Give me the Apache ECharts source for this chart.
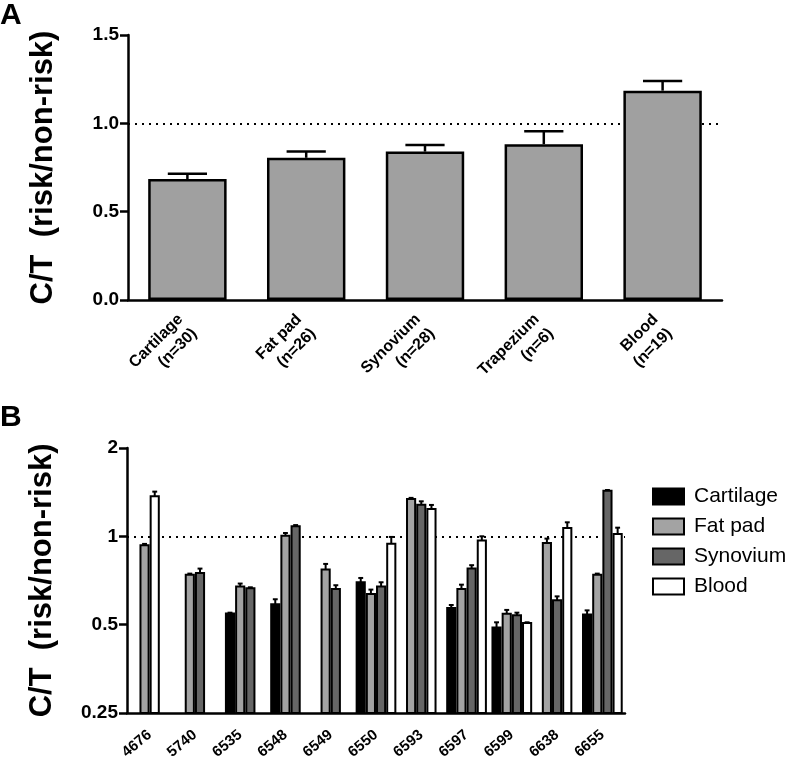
<!DOCTYPE html>
<html>
<head>
<meta charset="utf-8">
<script src="https://cdn.jsdelivr.net/npm/echarts@6/dist/echarts.min.js"></script>
<style>
html,body{margin:0;padding:0;background:#fff;}
#chart{width:787px;height:762px;}
</style>
</head>
<body>
<div id="chart"></div>
<script>
// ---------- Panel A data ----------
const catsA = ['Cartilage', 'Fat pad', 'Synovium', 'Trapezium', 'Blood'];
const nA = [30, 26, 28, 6, 19];
const meanA = [0.685, 0.805, 0.84, 0.882, 1.185];
const upperA = [0.715, 0.84, 0.877, 0.955, 1.24];
const ticksA = [0, 0.5, 1.0, 1.5];

// ---------- Panel B data ----------
const donors = ['4676', '5740', '6535', '6548', '6549', '6550', '6593', '6597', '6599', '6638', '6655'];
const tissuesB = ['Cartilage', 'Fat pad', 'Synovium', 'Blood'];
const cartilage   = [null, null, 0.545, 0.587, null, 0.697, null, 0.570, 0.489, null, 0.541];
const cartilageUp = [null, null, 0.549, 0.610, null, 0.721, null, 0.583, 0.509, null, 0.559];
const fatPad      = [0.932, 0.740, 0.674, 1.005, 0.770, 0.636, 1.340, 0.661, 0.544, 0.949, 0.740];
const fatPadUp    = [0.942, 0.746, 0.690, 1.026, 0.805, 0.658, 1.352, 0.684, 0.561, 0.982, 0.746];
const synovium    = [null, 0.750, 0.665, 1.081, 0.661, 0.674, 1.282, 0.776, 0.538, 0.605, 1.431];
const synoviumUp  = [null, 0.776, 0.670, 1.092, 0.681, 0.697, 1.316, 0.797, 0.549, 0.624, 1.438];
const blood       = [1.369, null, null, null, null, 0.944, 1.239, 0.967, 0.506, 1.067, 1.018];
const bloodUp     = [1.420, null, null, null, null, 0.995, 1.279, 1.000, 0.509, 1.116, 1.070];
const ticksB = [0.25, 0.5, 1, 2];

const valuesB = [cartilage, fatPad, synovium, blood];
const uppersB = [cartilageUp, fatPadUp, synoviumUp, bloodUp];
const colorsB = ['#000000', '#a3a3a3', '#666666', '#ffffff'];

const chart = echarts.init(document.getElementById('chart'));

const AX = '#000';
const sans = "'Liberation Sans', Arial, sans-serif";

function renderErrA(params, api) {
  const i = api.value(0);
  const top = api.coord([i, api.value(1)]);
  const up = api.coord([i, api.value(2)]);
  const catW = api.size([1, 0])[0];
  const half = catW * 0.66 * 0.25;
  return {
    type: 'group',
    children: [
      {type: 'line', shape: {x1: top[0], y1: top[1], x2: up[0], y2: up[1]}, style: {stroke: '#000', lineWidth: 2.5}},
      {type: 'line', shape: {x1: up[0] - half, y1: up[1], x2: up[0] + half, y2: up[1]}, style: {stroke: '#000', lineWidth: 2.5}}
    ]
  };
}

function makeRenderB(sIdx) {
  return function (params, api) {
    const ci = api.value(0);
    const present = [];
    for (let s = 0; s < valuesB.length; s++) if (valuesB[s][ci] != null) present.push(s);
    const k = present.length;
    const pos = present.indexOf(sIdx);
    const catW = api.size([1, 1])[0];
    const pitch = catW * 0.225;
    const bw = catW * 0.18;
    const c = api.coord([ci, api.value(1)]);
    const base = api.coord([ci, ticksB[0]]);
    const up = api.coord([ci, api.value(2)]);
    const x0 = c[0] - k * pitch / 2 + pos * pitch + (pitch - bw) / 2;
    const xc = x0 + bw / 2;
    const half = bw * 0.3;
    return {
      type: 'group',
      children: [
        {type: 'rect', shape: {x: x0, y: c[1], width: bw, height: base[1] - c[1]},
          style: {fill: colorsB[sIdx], stroke: '#000', lineWidth: 2}},
        {type: 'line', shape: {x1: xc, y1: c[1], x2: xc, y2: up[1]}, style: {stroke: '#000', lineWidth: 2}},
        {type: 'line', shape: {x1: xc - half, y1: up[1], x2: xc + half, y2: up[1]}, style: {stroke: '#000', lineWidth: 2}}
      ]
    };
  };
}

const seriesB = tissuesB.map((name, s) => {
  const data = [];
  valuesB[s].forEach((v, i) => { if (v != null) data.push([i, v, uppersB[s][i]]); });
  const ser = {
    name: name,
    type: 'custom',
    xAxisIndex: 1, yAxisIndex: 1,
    itemStyle: {color: colorsB[s], borderColor: '#000', borderWidth: 2},
    renderItem: makeRenderB(s),
    encode: {x: 0, y: 1},
    data: data,
    z: 3
  };
  if (s === 0) {
    ser.markLine = {
      silent: true, symbol: 'none', z: 1,
      label: {show: false},
      lineStyle: {color: '#000', width: 2, type: [2, 5]},
      data: [{yAxis: 1}]
    };
  }
  return ser;
});

const titleStyle = {fontSize: 31, fontWeight: 'bold', color: '#000', fontFamily: sans};

const option = {
  animation: false,
  backgroundColor: '#fff',
  textStyle: {fontFamily: sans, color: '#000'},
  graphic: [
    {type: 'text', left: 0, top: 1, style: {text: 'A', font: 'bold 30px ' + sans, fill: '#000'}},
    {type: 'text', left: 0, top: 403, style: {text: 'B', font: 'bold 30px ' + sans, fill: '#000'}}
  ],
  legend: {
    orient: 'vertical',
    left: 647, top: 481,
    itemWidth: 31, itemHeight: 16, itemGap: 9,
    icon: 'rect',
    textStyle: {fontSize: 21, color: '#000', fontFamily: sans, padding: [0, 0, 0, 5]},
    data: tissuesB.map((n, s) => ({name: n, itemStyle: {color: colorsB[s], borderColor: '#000', borderWidth: 2}}))
  },
  grid: [
    {left: 128, top: 35, width: 594, height: 265},
    {left: 127, top: 448, width: 498, height: 265}
  ],
  xAxis: [
    {
      type: 'category', gridIndex: 0, data: catsA,
      axisLine: {lineStyle: {color: AX, width: 2.5}},
      axisTick: {alignWithLabel: true, length: 8, lineStyle: {color: AX, width: 2.5}},
      axisLabel: {
        interval: 0, rotate: 45, margin: 24, color: '#000',
        formatter: (v, i) => v + '\n(n=' + nA[i] + ')',
        fontFamily: sans, fontWeight: 'bold', fontSize: 16, lineHeight: 20
      }
    },
    {
      type: 'category', gridIndex: 1, data: donors,
      axisLine: {lineStyle: {color: AX, width: 2.5}},
      axisTick: {alignWithLabel: true, length: 7, lineStyle: {color: AX, width: 2.5}},
      axisLabel: {interval: 0, rotate: 40, margin: 20, color: '#000', fontWeight: 'bold', fontSize: 15, fontFamily: sans}
    }
  ],
  yAxis: [
    {
      type: 'value', gridIndex: 0, min: ticksA[0], max: ticksA[ticksA.length - 1], interval: 0.5,
      splitLine: {show: false},
      axisLine: {show: true, lineStyle: {color: AX, width: 2.5}},
      axisTick: {show: true, length: 8, lineStyle: {color: AX, width: 2.5}},
      axisLabel: {formatter: v => v.toFixed(1), fontWeight: 'bold', fontSize: 19, fontFamily: sans, color: '#000', margin: 9},
      name: 'C/T  (risk/non-risk)', nameLocation: 'middle', nameGap: 69, nameRotate: 90,
      nameTextStyle: titleStyle
    },
    {
      type: 'log', logBase: 2, gridIndex: 1, min: ticksB[0], max: ticksB[ticksB.length - 1],
      splitLine: {show: false}, minorTick: {show: false},
      axisLine: {show: true, lineStyle: {color: AX, width: 2.5}},
      axisTick: {show: true, length: 8, lineStyle: {color: AX, width: 2.5}},
      axisLabel: {formatter: v => String(+(+v).toPrecision(3)), fontWeight: 'bold', fontSize: 19, fontFamily: sans, color: '#000', margin: 9},
      name: 'C/T  (risk/non-risk)', nameLocation: 'middle', nameGap: 69, nameRotate: 90,
      nameTextStyle: titleStyle
    }
  ],
  series: [
    {
      name: 'A', type: 'bar', xAxisIndex: 0, yAxisIndex: 0,
      data: meanA, barWidth: '66%', z: 2,
      itemStyle: {color: '#a0a0a0', borderColor: '#000', borderWidth: 2.5},
      markLine: {
        silent: true, symbol: 'none', z: 1,
        label: {show: false},
        lineStyle: {color: '#000', width: 2, type: [2, 5]},
        data: [{yAxis: 1}]
      }
    },
    {
      name: 'A err', type: 'custom', xAxisIndex: 0, yAxisIndex: 0, z: 3,
      renderItem: renderErrA, encode: {x: 0, y: 1},
      data: catsA.map((c, i) => [i, meanA[i], upperA[i]])
    },
    ...seriesB
  ]
};
chart.setOption(option);
</script>
</body>
</html>
